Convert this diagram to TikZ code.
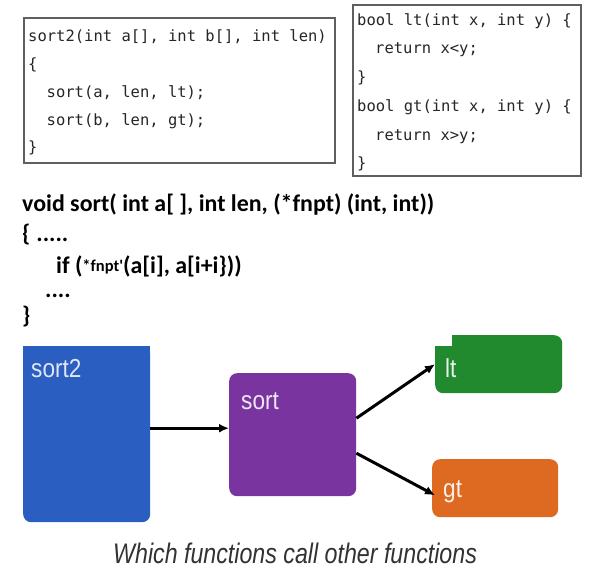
\documentclass[tikz,border=0pt]{standalone}
\usepackage{fontspec}
\newfontfamily\codefont{DejaVu Sans Mono}
\newfontfamily\calfont{Carlito}
\newfontfamily\helvfont[FakeStretch=0.87]{Liberation Sans}
\newfontfamily\capfont[FakeStretch=0.82]{Liberation Sans}
\usetikzlibrary{arrows.meta}
\definecolor{cblue}{RGB}{42,94,192}
\definecolor{cpurple}{RGB}{122,52,160}
\definecolor{cgreen}{RGB}{34,138,46}
\definecolor{corange}{RGB}{222,106,34}
\definecolor{cframe}{RGB}{95,95,95}
\definecolor{ccap}{RGB}{50,50,50}
\tikzset{
  code/.style={font=\codefont\fontsize{15.5}{18}\selectfont, anchor=base west, inner sep=0pt, text=black!85},
  bcode/.style={font=\calfont\bfseries\fontsize{23.9}{28}\selectfont, anchor=base west, inner sep=0pt, text=black},
  codeframe/.style={draw=cframe, line width=1.6pt, anchor=north west, inner sep=0pt, fill=white},
  fbox/.style={anchor=north west, inner sep=0pt, rounded corners=8pt},
  lbl/.style={font=\helvfont\fontsize{26}{30}\selectfont, anchor=base west, inner sep=0pt},
  arr/.style={-{Latex[length=10pt,width=9pt]}, line width=3pt, black}
}
\begin{document}
\begin{tikzpicture}[x=1pt,y=-1pt]
\useasboundingbox[fill=white] (0,0) rectangle (590,584);

% code frames
\node[codeframe, minimum width=311pt, minimum height=145pt] (frameL) at (23,17) {};
\node[codeframe, minimum width=228pt, minimum height=171pt] (frameR) at (352,4) {};

% left code
\node[code] (l1) at (28,41) {sort2(int a[], int b[], int len)};
\node[code] (l2) at (28,69) {\{};
\node[code] (l3) at (46.5,97) {sort(a, len, lt);};
\node[code] (l4) at (46.5,125) {sort(b, len, gt);};
\node[code] (l5) at (28,152) {\}};

% right code
\node[code] (r1) at (357,25) {bool lt(int x, int y) \{};
\node[code] (r2) at (375,53) {return x<y;};
\node[code] (r3) at (357,82) {\}};
\node[code] (r4) at (357,111) {bool gt(int x, int y) \{};
\node[code] (r5) at (375,140) {return x>y;};
\node[code] (r6) at (357,168) {\}};

% bold code
\node[bcode] (b1) at (22,211) {void sort( int a[ ], int len, (*fnpt) (int, int))};
\node[bcode] (b2) at (22,241) {\{\hspace{6pt}.....};
\node[bcode] (b3) at (56,273) {if (\raisebox{2pt}{\fontsize{16.5}{18}\selectfont *fnpt'}(a[i], a[i+i\}))};
\node[bcode] (b4) at (45,297) {....};
\node[bcode] (b5) at (22,323) {\}};

% diagram boxes
\node[fbox, fill=cblue, minimum width=127pt, minimum height=176pt] (sort2) at (23,346) {};
\fill[cblue] (sort2.north west) rectangle ([yshift=-20pt]sort2.north east);
\node[fbox, fill=cpurple, minimum width=127pt, minimum height=123pt] (sort) at (229,373) {};
\node[fbox, fill=cgreen, minimum width=127pt, minimum height=58pt] (lt) at (435,335) {};
\fill[white] (434,333) rectangle (452,346);
\node[fbox, fill=corange, minimum width=126pt, minimum height=58pt] (gt) at (432,459) {};

% labels
\node[lbl, text=white!85!cblue] (sort2lbl) at (31,377) {sort2};
\node[lbl, text=white!88!cpurple] (sortlbl) at (241,409) {sort};
\node[lbl, text=white!90!cgreen] (ltlbl) at (445,377) {lt};
\node[lbl, text=white!90!corange] (gtlbl) at (443,497) {gt};

% arrows
\draw[arr] ([yshift=6pt]sort2.east) -- ([yshift=6.5pt]sort.west);
\draw[arr] ([yshift=16.5pt]sort.east) -- (lt.west);
\draw[arr] ([yshift=-18.5pt]sort.east) -- ([yshift=-7pt,xshift=3pt]gt.west);

% caption
\node[font=\capfont\itshape\fontsize{28.3}{32}\selectfont, text=ccap, anchor=base west, inner sep=0pt] (cap) at (113,563) {Which functions call other functions};
\end{tikzpicture}
\end{document}
